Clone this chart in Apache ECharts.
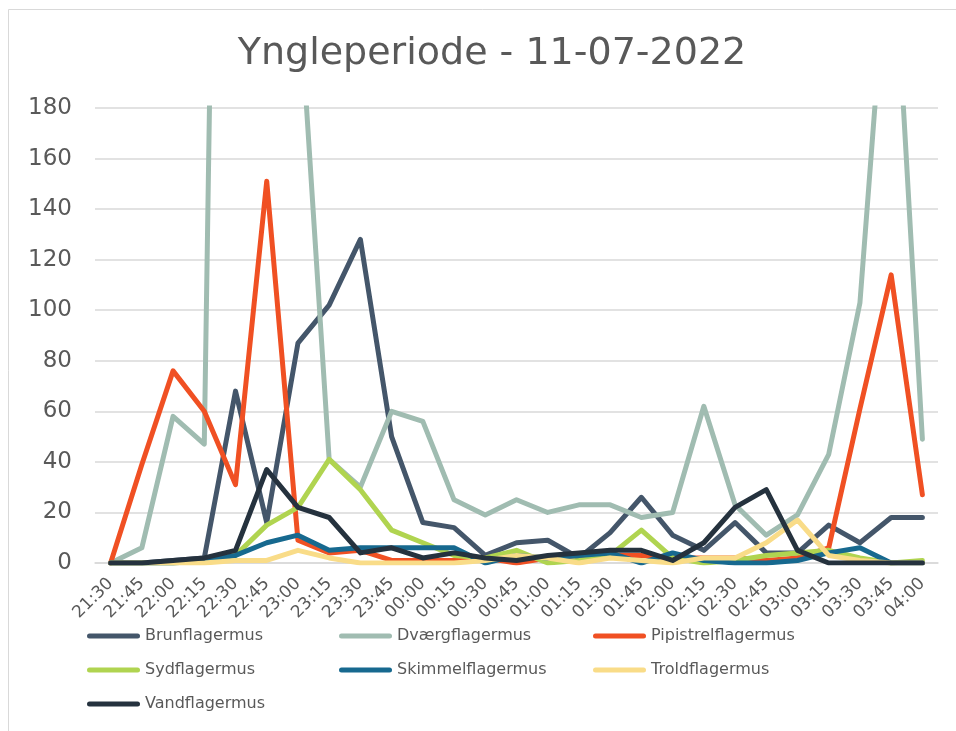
<!DOCTYPE html>
<html>
<head>
<meta charset="utf-8">
<script src="https://cdn.jsdelivr.net/npm/echarts@6/dist/echarts.min.js"></script>
<style>
  html, body { margin: 0; padding: 0; background: #ffffff; }
  #chart { width: 956px; height: 731px; }
</style>
</head>
<body>
<div id="chart"></div>
<script>
// Time slots (15-minute intervals)
const times = ['21:30','21:45','22:00','22:15','22:30','22:45','23:00','23:15','23:30','23:45',
  '00:00','00:15','00:30','00:45','01:00','01:15','01:30','01:45','02:00','02:15',
  '02:30','02:45','03:00','03:15','03:30','03:45','04:00'];

// Registrations per species
const brunflagermus      = [0,0,1,2,68,16,87,102,128,50,16,14,3,8,9,2,12,26,11,5,16,4,4,15,8,18,18];
const dvaergflagermus    = [0,6,58,47,850,520,233,41,30,60,56,25,19,25,20,23,23,18,20,62,23,11,19,43,103,265,49];
const pipistrelflagermus = [0,39,76,60,31,151,9,4,5,1,1,1,2,0,2,3,3,3,2,2,2,1,2,6,61,114,27];
const sydflagermus       = [0,0,0,1,3,15,22,41,29,13,8,3,2,5,0,1,3,13,2,0,1,3,4,5,2,0,1];
const skimmelflagermus   = [0,0,0,1,3,8,11,5,6,6,6,6,0,3,2,3,4,0,4,1,0,0,1,4,6,0,0];
const troldflagermus     = [0,0,0,0,1,1,5,2,0,0,0,0,1,3,2,0,2,1,0,2,2,8,17,3,1,0,0];
const vandflagermus      = [0,0,1,2,5,37,22,18,4,6,2,4,2,1,3,4,5,5,1,8,22,29,5,0,0,0,0];

const speciesNames = ['Brunflagermus','Dværgflagermus','Pipistrelflagermus','Sydflagermus',
  'Skimmelflagermus','Troldflagermus','Vandflagermus'];
const speciesData = [brunflagermus, dvaergflagermus, pipistrelflagermus, sydflagermus,
  skimmelflagermus, troldflagermus, vandflagermus];
const speciesColors = ['#44566A','#A0BCB1','#F05023','#B0D450','#17698F','#F9DC88','#25323E'];

const yTicks = { min: 0, max: 180, interval: 20 };
const titleText = 'Yngleperiode - 11-07-2022';

const FONT = '"DejaVu Sans", Verdana, sans-serif';
const TEXT_COLOR = '#595959';

// Legend: three columns, three rows
const legendCols = [87, 339, 593];
const legendRows = [637, 671, 705];
const legendIcon = 'path://M2.5,0H50.5A2.5,2.5,0,0,1,50.5,5H2.5A2.5,2.5,0,0,1,2.5,0Z';

const legends = speciesNames.map((name, i) => ({
  data: [name],
  left: legendCols[i % 3],
  top: legendRows[Math.floor(i / 3)] - 9,
  padding: 0,
  icon: legendIcon,
  itemWidth: 53,
  itemHeight: 5,
  itemStyle: { borderWidth: 0 },
  textStyle: { fontFamily: FONT, fontSize: 16, color: TEXT_COLOR, padding: [0, 0, 0, 0] }
}));

const series = speciesNames.map((name, i) => ({
  name: name,
  type: 'line',
  data: speciesData[i],
  showSymbol: false,
  symbol: 'none',
  clip: true,
  animation: false,
  itemStyle: { color: speciesColors[i] },
  lineStyle: { color: speciesColors[i], width: 5, cap: 'round', join: 'round' },
  emphasis: { disabled: true },
  z: 2 + i
}));

const chart = echarts.init(document.getElementById('chart'), null, { renderer: 'canvas' });
chart.setOption({
  animation: false,
  backgroundColor: '#ffffff',
  title: {
    text: titleText,
    left: 487,
    top: 30,
    textAlign: 'center',
    textStyle: { fontFamily: FONT, fontSize: 38, fontWeight: 'normal', color: TEXT_COLOR }
  },
  graphic: [{
    type: 'rect',
    shape: { x: 8.5, y: 9.5, width: 1000, height: 1000 },
    style: { fill: 'none', stroke: '#d9d9d9', lineWidth: 1 },
    silent: true,
    z: -1
  }],
  legend: legends,
  grid: { left: 95, right: 18, top: 108, bottom: 168, containLabel: false },
  xAxis: {
    type: 'category',
    data: times,
    boundaryGap: true,
    axisLine: { show: true, lineStyle: { color: '#d9d9d9', width: 1.5 } },
    axisTick: { show: false },
    axisLabel: {
      rotate: 45,
      interval: 0,
      margin: 18,
      fontFamily: FONT,
      fontSize: 17,
      color: TEXT_COLOR
    }
  },
  yAxis: {
    type: 'value',
    min: yTicks.min,
    max: yTicks.max,
    interval: yTicks.interval,
    axisLine: { show: false },
    axisTick: { show: false },
    splitLine: { lineStyle: { color: '#d9d9d9', width: 1.5 } },
    axisLabel: { margin: 23, fontFamily: FONT, fontSize: 23, color: TEXT_COLOR }
  },
  series: series
});
</script>
</body>
</html>
